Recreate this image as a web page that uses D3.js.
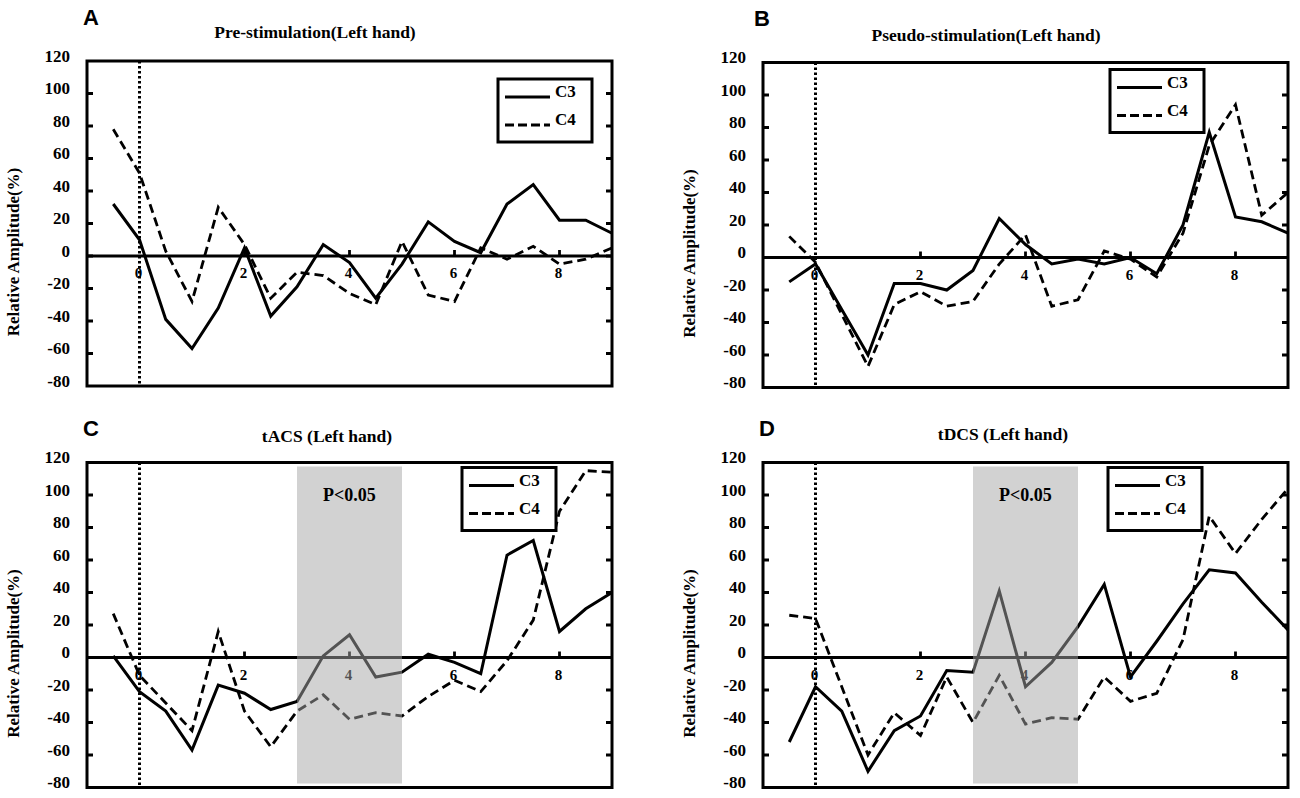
<!DOCTYPE html>
<html>
<head>
<meta charset="utf-8">
<script src="https://cdn.jsdelivr.net/npm/d3@7"></script>
<style>
  body { margin: 0; background: #fff; }
  svg { display: block; }
</style>
</head>
<body>
<script>
// time points (x) shared by all four panels
const times = [-0.5, 0, 0.5, 1, 1.5, 2, 2.5, 3, 3.5, 4, 4.5, 5, 5.5, 6, 6.5, 7, 7.5, 8, 8.5, 9];

// relative amplitude (%)
const preC3 = [32, 10, -39, -57, -32, 5, -37, -19, 7, -4, -26, -5, 21, 9, 2, 32, 44, 22, 22, 14];
const preC4 = [78, 51, 3, -28, 30, 7, -26, -10, -12, -23, -30, 9, -24, -28, 5, -2, 6, -5, -2, 5];

const pseudoC3 = [-15, -4, -32, -60, -16, -16, -20, -8, 24, 8, -4, -1, -4, 0, -10, 20, 77, 25, 22, 15];
const pseudoC4 = [13, -3, -35, -67, -29, -21, -30, -27, -4, 14, -30, -26, 4, -1, -12, 15, 69, 94, 26, 40];

const tacsC3 = [1, -21, -33, -57, -17, -22, -32, -27, 1, 14, -12, -9, 2, -3, -10, 63, 72, 16, 30, 40];
const tacsC4 = [27, -11, -28, -45, 16, -33, -55, -33, -23, -38, -34, -36, -24, -14, -21, -2, 23, 90, 115, 114];

const tdcsC3 = [-52, -18, -33, -70, -45, -36, -8, -9, 41, -18, -3, 19, 45, -12, 10, 33, 54, 52, 34, 17];
const tdcsC4 = [26, 24, -18, -60, -34, -48, -12, -40, -11, -41, -37, -38, -12, -27, -22, 11, 87, 64, 85, 104];

const yTicks = [-80, -60, -40, -20, 0, 20, 40, 60, 80, 100, 120];
const xTicks = [0, 2, 4, 6, 8];
const seriesNames = ["C3", "C4"];
const sigWindow = [3, 5];
const sigLabel = "P<0.05";

const width = 1300;
const height = 798;
const boxW = 525;
const boxH = 325;
const serif = "'Liberation Serif', 'Times New Roman', serif";

const panels = [
  {letter: "A", title: "Pre-stimulation(Left hand)", c3: preC3, c4: preC4, shade: false,
   x: 87, y: 61, titleDx: 228, titleDy: -23, letterDx: -4, letterDy: -36, legDx: 411, legDy: 18},
  {letter: "B", title: "Pseudo-stimulation(Left hand)", c3: pseudoC3, c4: pseudoC4, shade: false,
   x: 763, y: 62.5, titleDx: 223, titleDy: -22, letterDx: -9, letterDy: -37, legDx: 347, legDy: 7},
  {letter: "C", title: "tACS (Left hand)", c3: tacsC3, c4: tacsC4, shade: true,
   x: 87, y: 462.5, titleDx: 240, titleDy: -21, letterDx: -4, letterDy: -27, legDx: 375, legDy: 5},
  {letter: "D", title: "tDCS (Left hand)", c3: tdcsC3, c4: tdcsC4, shade: true,
   x: 763, y: 462.5, titleDx: 240, titleDy: -23, letterDx: -4, letterDy: -27, legDx: 345, legDy: 5}
];

const svg = d3.select("body").append("svg")
  .attr("width", width)
  .attr("height", height);

const x = d3.scaleLinear().domain([-1, 9]).range([0, boxW]);
const y = d3.scaleLinear().domain([-80, 120]).range([boxH, 0]);

const line = d3.line()
  .x((d, i) => x(times[i]))
  .y(d => y(d));

panels.forEach(p => {
  const g = svg.append("g").attr("transform", `translate(${p.x},${p.y})`);

  // panel letter and title
  g.append("text")
    .attr("x", p.letterDx).attr("y", p.letterDy)
    .attr("font-family", "'Liberation Sans', Arial, sans-serif")
    .attr("font-weight", "bold").attr("font-size", 22)
    .text(p.letter);

  g.append("text")
    .attr("x", p.titleDx).attr("y", p.titleDy)
    .attr("text-anchor", "middle")
    .attr("font-family", serif).attr("font-weight", "bold").attr("font-size", 17.5)
    .text(p.title);

  // y axis title
  g.append("text")
    .attr("transform", `translate(-68,191) rotate(-90)`)
    .attr("text-anchor", "middle")
    .attr("font-family", serif).attr("font-weight", "bold").attr("font-size", 17)
    .text("Relative Amplitude(%)");

  // y tick labels, sitting a little above their ticks
  g.selectAll(".ylab").data(yTicks).join("text")
    .attr("x", -17).attr("y", d => y(d) - 5)
    .attr("dy", "0.35em")
    .attr("text-anchor", "end")
    .attr("font-family", serif).attr("font-weight", "bold").attr("font-size", 17)
    .text(d => d);

  // tick stubs on both sides
  const inner = yTicks.filter(d => d > -80 && d < 120);
  g.selectAll(".yl").data(inner).join("line")
    .attr("x1", 0).attr("x2", 6)
    .attr("y1", d => y(d)).attr("y2", d => y(d))
    .attr("stroke", "#000").attr("stroke-width", 3);
  g.selectAll(".yr").data(inner).join("line")
    .attr("x1", boxW - 6).attr("x2", boxW)
    .attr("y1", d => y(d)).attr("y2", d => y(d))
    .attr("stroke", "#000").attr("stroke-width", 3);

  // stimulus onset
  g.append("line")
    .attr("x1", x(0)).attr("x2", x(0))
    .attr("y1", 0).attr("y2", boxH)
    .attr("stroke", "#000").attr("stroke-width", 3)
    .attr("stroke-dasharray", "2.5,2.5");

  // zero line with x ticks and labels
  g.append("line")
    .attr("x1", 0).attr("x2", boxW)
    .attr("y1", y(0)).attr("y2", y(0))
    .attr("stroke", "#000").attr("stroke-width", 2.8);

  g.selectAll(".xt").data(xTicks.filter(d => d > 0)).join("line")
    .attr("x1", d => x(d)).attr("x2", d => x(d))
    .attr("y1", y(0)).attr("y2", y(0) - 6)
    .attr("stroke", "#000").attr("stroke-width", 2.8);

  g.selectAll(".xlab").data(xTicks).join("text")
    .attr("x", d => x(d) - 1).attr("y", y(0) + 17)
    .attr("dy", "0.35em")
    .attr("text-anchor", "middle")
    .attr("font-family", serif).attr("font-weight", "bold").attr("font-size", 15)
    .text(d => d);

  // data
  g.append("path")
    .attr("d", line(p.c3))
    .attr("fill", "none").attr("stroke", "#000").attr("stroke-width", 3);
  g.append("path")
    .attr("d", line(p.c4))
    .attr("fill", "none").attr("stroke", "#000").attr("stroke-width", 2.8)
    .attr("stroke-dasharray", "9,5");

  // significant window, drawn over the lines so they show grey beneath it
  if (p.shade) {
    g.append("rect")
      .attr("x", x(sigWindow[0]))
      .attr("width", x(sigWindow[1]) - x(sigWindow[0]))
      .attr("y", 4).attr("height", boxH - 8)
      .attr("fill", "rgb(165,165,165)").attr("fill-opacity", 0.5);
    g.append("text")
      .attr("x", x((sigWindow[0] + sigWindow[1]) / 2)).attr("y", y(100))
      .attr("dy", "0.35em")
      .attr("text-anchor", "middle")
      .attr("font-family", serif).attr("font-weight", "bold").attr("font-size", 18)
      .text(sigLabel);
  }

  // frame
  g.append("rect")
    .attr("width", boxW).attr("height", boxH)
    .attr("fill", "none").attr("stroke", "#000").attr("stroke-width", 3);

  // legend
  const lg = g.append("g").attr("transform", `translate(${p.legDx},${p.legDy})`);
  lg.append("rect")
    .attr("width", 94).attr("height", 63)
    .attr("fill", "#fff").attr("stroke", "#000").attr("stroke-width", 3);
  seriesNames.forEach((name, i) => {
    const ly = 18 + i * 28;
    lg.append("line")
      .attr("x1", 7).attr("x2", 52).attr("y1", ly).attr("y2", ly)
      .attr("stroke", "#000").attr("stroke-width", 3)
      .attr("stroke-dasharray", i === 0 ? null : "9,4");
    lg.append("text")
      .attr("x", 57).attr("y", ly)
      .attr("font-family", serif).attr("font-weight", "bold").attr("font-size", 17)
      .text(name);
  });
});
</script>
</body>
</html>
